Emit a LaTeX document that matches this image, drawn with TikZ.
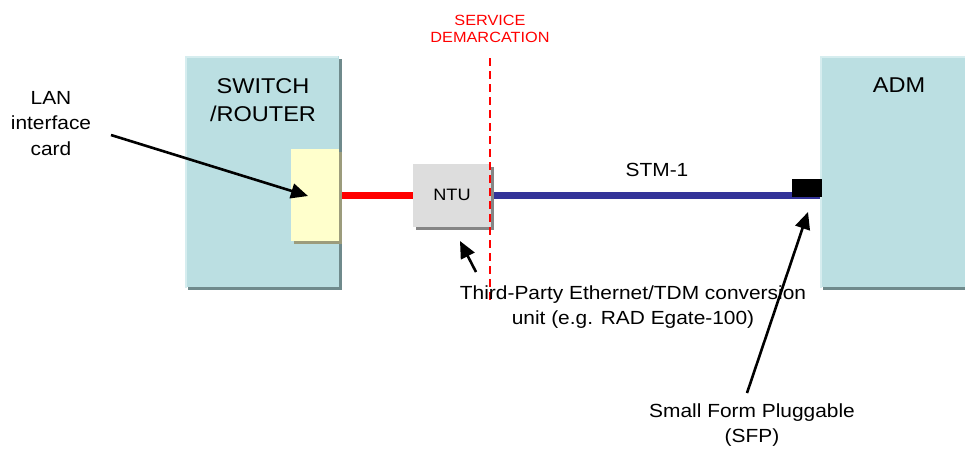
\documentclass[tikz,border=0pt]{standalone}
\usepackage{fontspec}
\setmainfont{Liberation Sans}[FakeStretch=1.1]
\usetikzlibrary{arrows.meta,shadows,backgrounds}
\definecolor{boxblue}{HTML}{BBDFE2}
\definecolor{boxhl}{HTML}{D6EDEF}
\definecolor{boxshadow}{HTML}{6F8A8C}
\definecolor{cardyellow}{HTML}{FFFFCC}
\definecolor{cardshadow}{HTML}{9C9C7C}
\definecolor{ntugray}{HTML}{DDDDDD}
\definecolor{ntushadow}{HTML}{858585}
\definecolor{linkblue}{HTML}{333399}
\definecolor{linkred}{HTML}{FF0000}
\tikzset{
  devbox/.style={fill=boxblue, inner sep=0pt, outer sep=0pt,
    drop shadow={shadow xshift=3pt, shadow yshift=-3pt, fill=boxshadow, opacity=1}},
  cardbox/.style={fill=cardyellow, inner sep=0pt, outer sep=0pt,
    drop shadow={shadow xshift=3pt, shadow yshift=-3pt, fill=cardshadow, opacity=1}},
  ntubox/.style={fill=ntugray, inner sep=0pt, outer sep=0pt,
    font=\fontsize{16.5}{20}\selectfont,
    drop shadow={shadow xshift=3pt, shadow yshift=-3pt, fill=ntushadow, opacity=1}},
  sfpbox/.style={fill=black, inner sep=0pt, outer sep=0pt},
  hl/.style={draw=boxhl, line width=2pt},
  biglbl/.style={align=center, inner sep=0pt, font=\fontsize{21.4}{28}\selectfont},
  lbl/.style={align=center, inner sep=0pt, font=\fontsize{19}{25.5}\selectfont},
  demlbl/.style={align=center, inner sep=0pt, text=linkred, font=\fontsize{14.8}{17}\selectfont},
  redlink/.style={draw=linkred, line width=7pt},
  bluelink/.style={draw=linkblue, line width=7pt},
  demline/.style={draw=linkred, line width=1.8pt, dash pattern=on 8pt off 5pt},
  ptr/.style={draw=black, line width=2.6pt, -{Triangle[length=17pt,width=15pt]}}
}
\begin{document}
\begin{tikzpicture}[x=1pt,y=-1pt]
\useasboundingbox (0,0) rectangle (965,451);
% devices
\node[devbox, minimum width=154pt, minimum height=231pt] (sw) at (262,171.5) {};
\draw[hl] ([yshift=-1pt,xshift=1pt]sw.south west) |- ([xshift=-1pt,yshift=-1pt]sw.north east);
\node[cardbox, minimum width=48pt, minimum height=92pt] (card) at (315,195) {};
\node[ntubox, minimum width=78pt, minimum height=63pt] (ntu) at (452,195) {NTU};
\node[devbox, minimum width=150pt, minimum height=231pt] (adm) at (895,171.5) {};
\draw[hl] ([yshift=-1pt,xshift=1pt]adm.south west) |- ([xshift=-1pt,yshift=-1pt]adm.north east);
\node[sfpbox, minimum width=30pt, minimum height=18pt] (sfp) at (807,188) {};
% links
\begin{scope}[on background layer]
\draw[redlink] (card.east) -- (ntu.west);
\draw[bluelink] (ntu.east) -- (ntu.east -| adm.west);
\end{scope}
% demarcation
\coordinate (demtop) at (490,58);
\coordinate (dembot) at (490,300);
\draw[demline] (demtop) -- (dembot);
% labels
\node[biglbl] (swlbl) at (263,100) {SWITCH\\/ROUTER};
\node[biglbl] (admlbl) at (899,85) {ADM};
\node[demlbl] (demtxt) at (490,29) {SERVICE\\DEMARCATION};
\node[lbl] (lanlbl) at (51,123.5) {LAN\\interface\\card};
\node[lbl] (stm) at (657,169.5) {STM-1};
\node[lbl] (tp) at (633,307) {Third-Party Ethernet/TDM conversion\\unit (e.g. RAD Egate-100)};
\node[lbl] (sfplbl) at (752,425) {Small Form Pluggable\\(SFP)};
% pointers
\coordinate (lanA) at (111,135);
\coordinate (lanB) at (308,196);
\draw[ptr] (lanA) -- (lanB);
\coordinate (ntuA) at (476,272);
\coordinate (ntuB) at (460,241);
\draw[ptr] (ntuA) -- (ntuB);
\coordinate (sfpA) at (747,393);
\coordinate (sfpB) at (808,212);
\draw[ptr] (sfpA) -- (sfpB);
\end{tikzpicture}
\end{document}
